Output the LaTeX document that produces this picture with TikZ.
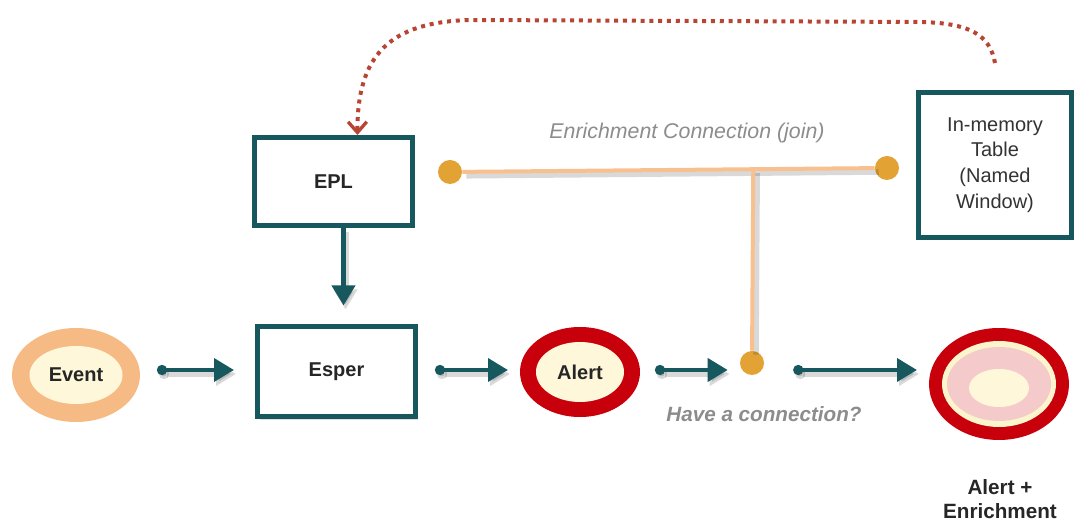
\documentclass[tikz,border=0pt]{standalone}
\usepackage{fontspec}
\setmainfont{Liberation Sans}
\usetikzlibrary{arrows.meta,shapes.geometric,shadows,calc}

\definecolor{esperteal}{RGB}{22,88,94}
\definecolor{eventorange}{RGB}{246,186,133}
\definecolor{cream}{RGB}{255,247,218}
\definecolor{alertred}{RGB}{200,0,12}
\definecolor{creamband}{RGB}{250,245,205}
\definecolor{pinkband}{RGB}{245,202,202}
\definecolor{joinline}{RGB}{248,192,142}
\definecolor{joindotc}{RGB}{226,162,52}
\definecolor{recallred}{RGB}{184,68,52}
\definecolor{labelgray}{RGB}{140,140,140}

\begin{document}
\begin{tikzpicture}[x=0.75pt,y=0.75pt,yscale=-1,xscale=1,
  box/.style={draw=esperteal, line width=3.75pt, fill=white, inner sep=0pt,
    drop shadow={shadow xshift=2pt, shadow yshift=-2pt, opacity=0.25}},
  ring/.style={ellipse, inner sep=0pt, outer sep=0pt},
  boxtext/.style={font=\fontsize{15}{18}\selectfont\bfseries, text=black!85},
  flow/.style={esperteal, line width=3.5pt, -{Triangle[length=15pt,width=17pt]},
    preaction={draw=black, opacity=0.15, line width=5pt, transform canvas={xshift=1.5pt,yshift=-3pt}}},
  flowdot/.style={flow, {Circle[length=7.5pt]}-{Triangle[length=15pt,width=17pt]}},
  joinlink/.style={joinline, line width=3pt,
    preaction={draw=black, opacity=0.15, line width=4pt, transform canvas={xshift=3pt,yshift=-3pt}}},
  jdot/.style={circle, fill=joindotc, minimum size=18pt, inner sep=0pt},
  recall/.style={recallred, line width=3pt, dash pattern=on 3pt off 3.6pt,
    -{Straight Barb[length=8pt,width=14pt,line width=2.5pt]}}]
%set diagram area to the reference size
\useasboundingbox (0,0) rectangle (1076,523);
\coordinate (row) at (0,370);

%Shape: Rectangle (EPL)
\node (epl) [box, boxtext, minimum width=118.5pt, minimum height=66pt] at (333.5,181.5) {EPL};
%Shape: Rectangle (Esper)
\node (esper) [box, boxtext, minimum width=118.5pt, minimum height=67.5pt] at (336.5,372) {Esper};
%Shape: Rectangle (named window)
\node (inmem) [box, minimum width=114.75pt, minimum height=108.75pt, align=center,
  font=\fontsize{15}{19.3}\selectfont, text=black!80] at (995,165) {In-memory\\Table\\(Named\\Window)};

%Shape: Ellipse (event)
\node (event) [ring, fill=eventorange, minimum width=96pt, minimum height=70.5pt] at (76,375) {};
\node (eventcore) [ring, fill=cream, boxtext, minimum width=69.75pt, minimum height=43.5pt] at (event.center) {Event};
%Shape: Ellipse (alert)
\node (alert) [ring, fill=alertred, minimum width=90pt, minimum height=67.5pt] at (580,372) {};
\node (alertcore) [ring, fill=cream, boxtext, minimum width=66pt, minimum height=45pt] at (alert.center) {Alert};
%Shape: Ellipse (enriched alert)
\node (result) [ring, fill=alertred, minimum width=105pt, minimum height=84pt] at (999,384) {};
\node (resultband) [ring, fill=creamband, minimum width=85.5pt, minimum height=64.5pt] at (result.center) {};
\node (resultpink) [ring, fill=pinkband, minimum width=78pt, minimum height=55.5pt] at (result.center) {};
\node (resultcore) [ring, fill=cream, minimum width=45pt, minimum height=28.5pt] at ($(result.center)+(0,4)$) {};

%Shape: Circle (join points)
\node (leftdot) [jdot] at (450,172) {};
\node (rightdot) [jdot] at (887,168) {};
\node (joindot) [jdot] at (752,363) {};
\coordinate (tee) at ($(leftdot)!0.694!(rightdot)$);

%Join lines
\draw [joinlink] (leftdot) -- (rightdot);
\draw [joinlink] (tee) -- (joindot);

%Flow arrows
\draw [flowdot] ($(event.east|-row)+(17,0)$) -- ($(esper.west|-row)+(-21,0)$);
\draw [flowdot] ($(esper.east|-row)+(17,0)$) -- ($(alert.west|-row)+(-12,0)$);
\draw [flowdot] ($(alert.east|-row)+(15,0)$) -- ($(joindot.west|-row)+(-12,0)$);
\draw [flowdot] ($(joindot.east|-row)+(29,0)$) -- ($(result.west|-row)+(-12,0)$);
\draw [flow] ($(epl.south)+(10,0)$) -- ($(esper.north)+(7,-19)$);

%Dotted return from the named window
\coordinate (tablecall) at (995,63);
\draw [recall] (tablecall) .. controls (990,35) and (970,23) .. (920,22) -- (470,20)
  .. controls (390,22) and (357,55) .. ($(epl.north)+(24,0)$);

% Text Node
\node (joinlabel) [font=\fontsize{16}{19}\selectfont\itshape, text=labelgray] at (687,133) {Enrichment Connection (join)};
% Text Node
\node (asklabel) [font=\fontsize{15.5}{18}\selectfont\bfseries\itshape, text=labelgray] at (764,414) {Have a connection?};
% Text Node
\node (resultlabel) [font=\fontsize{15.5}{18.5}\selectfont\bfseries, align=center, text=black!85] at (1000,499) {Alert +\\Enrichment};
\end{tikzpicture}
\end{document}
